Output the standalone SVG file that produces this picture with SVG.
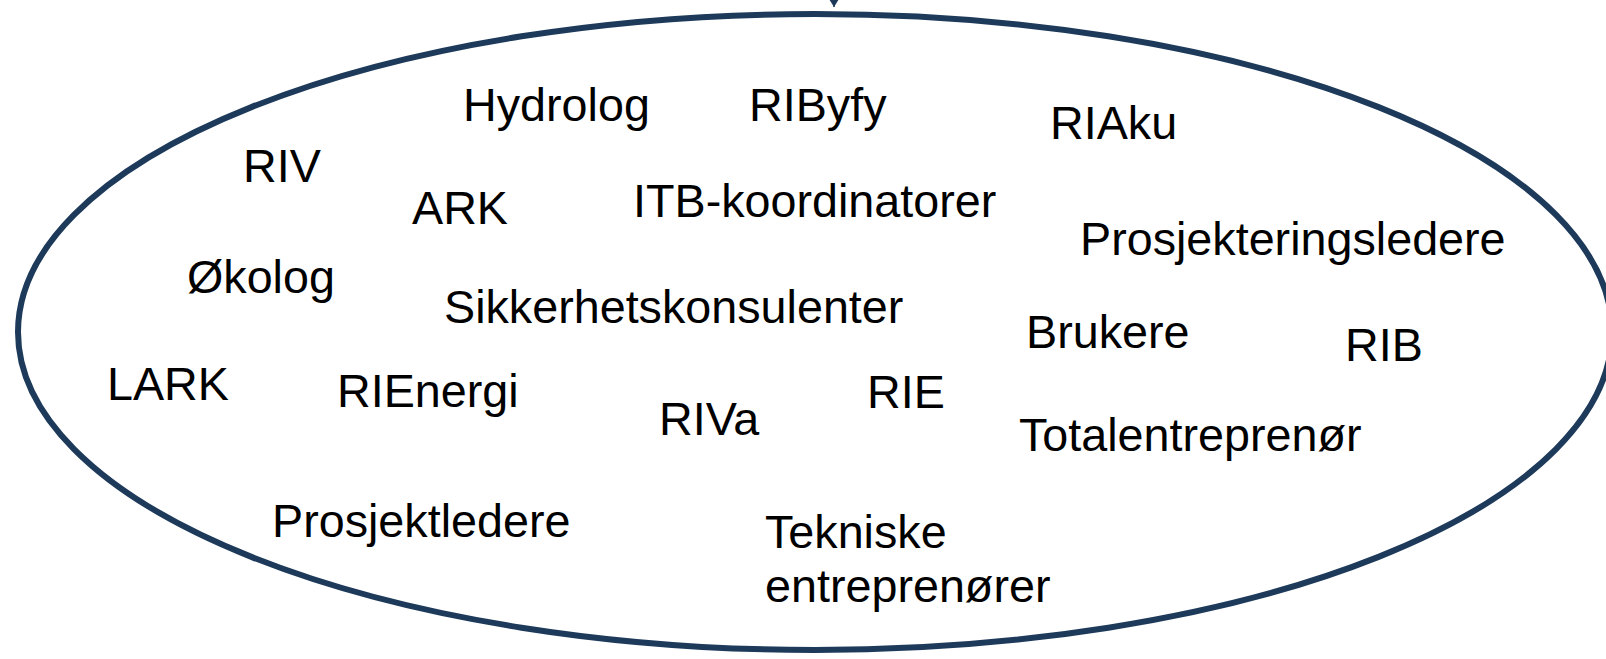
<svg xmlns="http://www.w3.org/2000/svg" width="1606" height="659" viewBox="0 0 1606 659">
<style>
.lbl{font-family:"Liberation Sans",Arial,sans-serif;font-size:46.7px;fill:#000}
.outline{fill:#fff;stroke:#1E3A5A;stroke-width:6}
</style>
<defs>
<marker id="arr" markerWidth="10" markerHeight="10" refX="8" refY="5" orient="auto" markerUnits="userSpaceOnUse" viewBox="0 0 10 10">
<path d="M0,0 L8,5 L0,10 Z" fill="#1E3A5A"/>
</marker>
</defs>
<rect width="1606" height="659" fill="#fff"/>
<g id="connectors">
<path d="M834,-30 L834,7" stroke="#1E3A5A" stroke-width="1.5" fill="none" marker-end="url(#arr)"/>
</g>
<g id="group-ellipse">
<ellipse class="outline" cx="815" cy="332" rx="797" ry="318"/>
</g>
<g id="n-hydrolog"><text class="lbl" x="463" y="121">Hydrolog</text></g>
<g id="n-ribyfy"><text class="lbl" x="749" y="121">RIByfy</text></g>
<g id="n-riaku"><text class="lbl" x="1050" y="139">RIAku</text></g>
<g id="n-riv"><text class="lbl" x="243" y="182">RIV</text></g>
<g id="n-ark"><text class="lbl" x="412" y="224">ARK</text></g>
<g id="n-itb"><text class="lbl" x="633" y="217">ITB-koordinatorer</text></g>
<g id="n-prosjekteringsledere"><text class="lbl" x="1080" y="255">Prosjekteringsledere</text></g>
<g id="n-okolog"><text class="lbl" x="187" y="293">Økolog</text></g>
<g id="n-sikkerhet"><text class="lbl" x="444" y="323">Sikkerhetskonsulenter</text></g>
<g id="n-brukere"><text class="lbl" x="1026" y="348">Brukere</text></g>
<g id="n-rib"><text class="lbl" x="1345" y="361">RIB</text></g>
<g id="n-lark"><text class="lbl" x="107" y="400">LARK</text></g>
<g id="n-rienergi"><text class="lbl" x="337" y="407">RIEnergi</text></g>
<g id="n-rie"><text class="lbl" x="867" y="408">RIE</text></g>
<g id="n-riva"><text class="lbl" x="659" y="435">RIVa</text></g>
<g id="n-totalentreprenor"><text class="lbl" x="1019" y="451">Totalentreprenør</text></g>
<g id="n-prosjektledere"><text class="lbl" x="272" y="537">Prosjektledere</text></g>
<g id="n-tekniske"><text class="lbl" x="765" y="548">Tekniske<tspan x="765" dy="54">entreprenører</tspan></text></g>
</svg>
